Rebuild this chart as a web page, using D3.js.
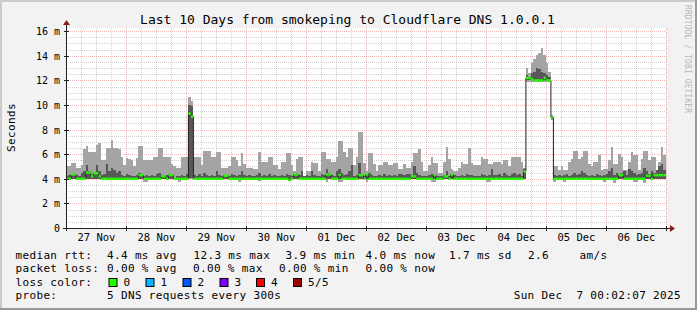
<!DOCTYPE html>
<html><head><meta charset="utf-8">
<script src="https://cdn.jsdelivr.net/npm/d3@7"></script>
<style>
html,body{margin:0;padding:0;background:#f2f2f2;}
svg{display:block;font-family:"DejaVu Sans Mono",monospace;}
</style>
</head><body>
<svg id="chart" width="697" height="310"></svg>
<script>
// ---------------- data ----------------
const title = "Last 10 Days from smokeping to Cloudflare DNS 1.0.0.1";
const yTickValues = [0, 2, 4, 6, 8, 10, 12, 14, 16];
const startTime = Date.UTC(2025, 10, 27, 0, 2, 7);
const endTime = Date.UTC(2025, 11, 7, 0, 2, 7);
const firstBin = Date.UTC(2025, 10, 27, 0, 0, 0);
const binSeconds = 3600;

// slowest ping (ms) per hourly bin
const maxMs = [
5.0,5.0,5.3,5.3,4.85,4.9,5.1,6.4,6.65,6.2,
6.15,6.15,6.75,6.95,5.5,5.5,6.5,6.5,7.15,6.5,
6.5,6.4,5.75,5.1,5.7,5.6,5.5,5.0,5.7,6.65,
6.65,5.5,5.5,5.5,5.5,5.8,5.8,6.5,6.5,5.8,
5.8,5.8,5.2,5.0,4.9,4.9,5.8,5.8,5.8,10.65,
10.3,5.8,5.8,5.8,5.1,6.3,6.3,6.3,5.8,5.8,
6.2,6.2,4.9,4.9,4.9,5.0,5.8,5.8,5.5,5.0,
6.1,5.2,4.9,4.9,4.9,4.8,4.8,6.2,5.4,5.4,
5.4,5.8,5.8,5.1,5.1,4.8,5.4,5.4,6.1,6.1,
5.1,4.6,5.6,5.8,5.8,4.2,4.6,4.6,5.4,5.3,
5.3,4.6,6.2,6.2,5.6,5.6,5.4,5.4,5.8,7.1,
7.1,6.2,5.8,6.5,6.5,5.1,5.8,7.8,7.8,5.3,
4.6,6.1,6.1,5.2,4.6,5.1,5.1,5.4,5.4,5.1,
5.1,5.3,5.3,4.8,4.8,5.2,4.9,4.9,5.4,6.1,
6.1,6.4,5.4,4.6,4.6,5.1,5.8,5.3,5.3,4.5,
4.5,5.4,6.6,5.6,4.8,4.6,4.6,4.9,5.4,5.2,
5.2,6.5,5.3,5.1,5.1,5.1,5.8,5.6,5.6,5.2,
5.2,5.4,5.4,5.4,5.2,5.5,5.5,5.0,5.8,5.8,
5.8,5.8,5.4,4.9,13.0,12.6,13.4,13.7,14.1,14.2,
14.6,14.1,13.4,12.7,9.2,5.0,5.0,4.7,5.0,4.7,
4.7,5.4,5.6,6.3,6.3,5.6,5.8,6.3,6.3,5.2,
5.0,5.4,5.4,5.9,4.7,4.8,4.8,5.5,6.6,5.2,
5.2,6.0,5.8,4.7,4.7,5.4,6.2,5.9,5.9,4.7,
5.6,6.3,6.3,5.5,5.8,5.8,4.7,5.4,6.6,5.9
];
// 4th of 5 pings (ms)
const p4Ms = [
4.2,4.3,4.4,4.4,4.3,4.2,4.5,4.6,5.1,4.6,
4.3,4.5,5.1,4.6,4.3,4.4,5.2,4.6,4.9,4.7,
4.5,4.6,4.3,4.2,4.4,4.3,4.2,4.2,4.3,4.5,
4.3,4.2,4.3,4.2,4.3,4.2,4.4,4.5,4.3,4.2,
4.3,4.4,4.4,4.1,4.2,4.2,4.3,4.2,4.4,10.0,
9.9,4.3,4.2,4.4,4.2,4.5,4.3,4.2,4.3,4.2,
4.6,4.3,4.2,4.3,4.3,4.2,4.4,4.3,4.2,4.3,
4.6,4.3,4.2,4.3,4.2,4.2,4.3,4.5,4.2,4.3,
4.2,4.4,4.2,4.3,4.2,4.2,4.3,4.2,4.4,4.3,
4.2,4.4,4.5,4.3,4.6,4.2,4.3,4.2,4.6,4.3,
4.2,4.2,4.4,4.3,4.8,4.5,4.3,4.2,4.6,4.8,
4.5,4.3,4.4,4.6,5.1,4.2,4.3,5.3,4.4,4.2,
4.4,4.5,4.3,4.2,4.2,4.3,4.2,4.4,4.2,4.3,
4.2,4.3,4.2,4.4,4.4,4.3,4.4,4.4,4.2,5.0,
4.5,4.3,4.2,4.2,4.2,4.3,4.4,4.3,4.2,4.2,
4.2,4.3,4.6,4.2,4.4,4.3,4.2,4.2,4.3,4.2,
4.4,4.3,4.3,4.2,4.2,4.2,4.4,4.3,4.2,4.3,
4.8,4.3,4.3,4.4,4.2,4.5,4.3,4.2,4.4,4.5,
4.3,4.4,4.2,4.8,12.4,12.3,12.6,12.7,13.0,12.9,
12.7,12.6,12.4,12.3,9.1,4.3,4.2,4.3,4.2,4.3,
4.4,4.2,4.3,4.5,4.3,4.4,4.6,4.5,4.3,4.2,
4.3,4.2,4.4,4.3,4.2,4.3,4.4,4.6,4.9,4.3,
4.5,4.4,4.5,4.6,4.3,4.8,4.6,4.5,4.3,4.4,
4.5,4.9,4.6,4.4,4.6,4.5,4.7,5.0,5.2,4.7
];
// median rtt (ms)
const medianMs = [
4.0,4.0,4.35,4.35,4.0,4.0,4.0,4.0,4.5,4.5,
4.2,4.45,4.45,4.2,4.0,4.0,4.0,4.0,4.0,4.0,
4.0,4.0,4.0,4.0,4.0,4.0,4.0,4.0,4.0,4.3,
4.3,4.0,4.0,4.0,4.0,4.0,4.0,4.0,4.2,4.2,
4.0,4.3,4.3,4.0,4.0,4.0,4.0,4.0,4.0,9.3,
9.05,4.0,4.0,4.0,4.0,4.0,4.0,4.0,4.0,4.0,
4.0,4.0,4.0,4.25,4.25,4.0,4.0,4.0,4.0,4.0,
4.0,4.0,4.0,4.0,4.0,4.0,4.0,4.0,4.0,4.0,
4.0,4.0,4.0,4.0,4.0,4.0,4.0,4.0,4.0,3.9,
4.0,4.35,4.35,4.0,4.0,4.0,4.0,4.0,4.0,4.0,
4.0,4.0,4.0,4.0,4.35,4.35,4.0,4.0,4.0,4.3,
4.0,4.0,4.0,4.0,4.0,4.0,4.0,4.3,4.3,4.0,
4.35,4.0,4.0,4.0,4.0,4.0,4.0,4.0,4.0,4.0,
4.0,4.0,4.0,4.0,4.0,4.0,4.0,4.0,4.2,4.2,
4.0,4.0,4.0,4.0,4.0,4.0,4.0,4.3,4.0,4.0,
4.0,4.2,4.2,4.0,4.35,4.0,4.0,4.0,4.0,4.0,
4.0,4.0,4.0,4.0,4.0,4.0,4.0,4.0,4.0,4.0,
4.0,4.0,4.0,4.0,4.0,4.0,4.0,4.0,4.0,4.0,
4.0,4.0,4.0,4.6,12.2,12.2,12.1,12.0,12.0,12.0,
12.0,12.2,12.0,12.0,9.0,4.0,4.0,4.0,4.0,4.0,
4.0,4.0,4.0,4.0,4.0,4.0,4.0,4.0,4.0,4.0,
4.0,4.0,4.0,4.0,4.0,4.0,4.0,4.0,4.0,4.0,
4.0,4.3,4.3,4.0,4.0,4.0,4.0,4.0,4.0,4.0,
4.0,4.0,4.25,4.25,4.0,4.3,4.3,4.3,4.3,4.3
];
// 2nd of 5 pings (ms)
const p2Ms = [
4.0,4.0,4.0,4.0,4.0,4.0,4.0,4.0,4.0,4.0,
4.0,4.0,4.0,4.0,4.0,4.0,4.0,4.0,4.0,4.0,
4.0,4.0,4.0,4.0,4.0,4.0,4.0,4.0,4.0,4.0,
4.0,4.0,4.0,4.0,4.0,4.0,4.0,4.0,4.0,4.0,
4.0,4.0,4.0,4.0,4.0,4.0,4.0,4.0,4.0,4.1,
4.1,4.0,4.0,4.0,4.0,4.0,4.0,4.0,4.0,4.0,
4.0,4.0,4.0,4.0,4.0,4.0,4.0,4.0,4.0,4.0,
4.0,4.0,4.0,4.0,4.0,4.0,4.0,4.0,4.0,4.0,
4.0,4.0,4.0,4.0,4.0,4.0,4.0,4.0,4.0,3.9,
4.0,4.0,4.0,4.0,4.0,4.0,4.0,4.0,4.0,4.0,
4.0,4.0,4.0,4.0,4.0,4.0,4.0,4.0,4.0,4.0,
4.0,4.0,4.0,4.0,4.0,4.0,4.0,4.0,4.0,4.0,
4.0,4.0,4.0,4.0,4.0,4.0,4.0,4.0,4.0,4.0,
4.0,4.0,4.0,4.0,4.0,4.0,4.0,4.0,4.0,4.0,
4.0,4.0,4.0,4.0,4.0,4.0,4.0,4.0,4.0,4.0,
4.0,4.0,4.0,4.0,4.0,4.0,4.0,4.0,4.0,4.0,
4.0,4.0,4.0,4.0,4.0,4.0,4.0,4.0,4.0,4.0,
4.0,4.0,4.0,4.0,4.0,4.0,4.0,4.0,4.0,4.0,
4.0,4.0,4.0,4.0,12.0,12.0,12.0,12.0,12.0,12.0,
12.0,12.0,12.0,12.0,8.9,4.0,4.0,4.0,4.0,4.0,
4.0,4.0,4.0,4.0,4.0,4.0,4.0,4.0,4.0,4.0,
4.0,4.0,4.0,4.0,4.0,4.0,4.0,4.0,4.0,4.0,
4.0,4.0,4.0,4.0,4.0,4.0,4.0,4.0,4.0,4.0,
4.0,4.0,4.0,4.0,4.0,4.0,4.0,4.0,4.0,4.0
];
// fastest ping (ms)
const minMs = [
3.95,3.95,3.95,3.95,3.95,3.95,3.95,3.95,3.95,3.95,
3.95,3.95,3.95,3.95,3.95,3.95,3.95,3.95,3.95,3.95,
3.95,3.95,3.95,3.95,3.95,3.95,3.95,3.95,3.95,3.95,
3.95,3.7,3.7,3.95,3.95,3.95,3.95,3.95,3.95,3.95,
3.95,3.95,3.95,3.95,3.95,3.7,3.95,3.95,3.95,4.0,
4.0,3.95,3.95,3.95,3.95,3.95,3.95,3.95,3.95,3.95,
3.95,3.95,3.95,3.95,3.95,3.95,3.95,3.95,3.95,3.75,
3.95,3.95,3.95,3.95,3.95,3.95,3.95,3.8,3.95,3.95,
3.95,3.95,3.95,3.95,3.95,3.95,3.95,3.95,3.95,3.85,
3.95,3.95,3.95,3.95,3.95,3.95,3.95,3.95,3.95,3.95,
3.95,3.95,3.95,3.95,3.75,3.95,3.95,3.95,3.95,3.7,
3.7,3.95,3.95,3.95,3.95,3.95,3.95,3.95,3.95,3.95,
3.75,3.95,3.95,3.95,3.95,3.95,3.95,3.95,3.95,3.95,
3.95,3.95,3.95,3.95,3.95,3.95,3.95,3.95,3.95,3.95,
3.95,3.95,3.95,3.95,3.95,3.95,3.7,3.7,3.95,3.95,
3.95,3.95,3.95,3.95,3.95,3.95,3.95,3.95,3.95,3.95,
3.95,3.95,3.95,3.95,3.95,3.95,3.95,3.95,3.75,3.75,
3.95,3.95,3.95,3.95,3.95,3.95,3.95,3.95,3.95,3.95,
3.95,3.95,3.95,3.95,11.9,11.9,11.9,11.9,11.9,11.9,
11.9,11.9,11.9,11.9,8.8,3.75,3.95,3.95,3.95,3.7,
3.95,3.95,3.95,3.95,3.95,3.95,3.95,3.95,3.95,3.95,
3.95,3.95,3.95,3.95,3.95,3.75,3.95,3.95,3.95,3.65,
3.95,3.95,3.95,3.95,3.95,3.95,3.95,3.75,3.75,3.95,
3.95,3.65,3.95,3.95,3.95,3.95,3.95,3.95,3.95,3.95
];

const statsRows = [
  ["median rtt:", [[107,"4.4 ms avg"],[193.5,"12.3 ms max"],[285.5,"3.9 ms min"],[365.5,"4.0 ms now"],[449,"1.7 ms sd"],[528,"2.6"],[579.5,"am/s"]]],
  ["packet loss:", [[107,"0.00 % avg"],[193,"0.00 % max"],[279,"0.00 % min"],[365.5,"0.00 % now"]]],
];
const lossLabels = ["0", "1", "2", "3", "4", "5/5"];
const lossColors = ["#26ff00", "#00b8ff", "#0059ff", "#7e00ff", "#ff0000", "#a00000"];
const probeText = "5 DNS requests every 300s";
const dateText = "Sun Dec  7 00:02:07 2025";

// ---------------- drawing ----------------
const svg = d3.select("#chart");
const W = 697, H = 310;
const L = 66, R = 666, T = 28, B = 228;

const x = d3.scaleUtc().domain([new Date(startTime), new Date(endTime)]).range([L, R]);
const y = d3.scaleLinear().domain([0, 16.26]).range([B, T]);

svg.append("rect").attr("width", W).attr("height", H).attr("fill", "#f2f2f2");
// frame shading
svg.append("rect").attr("x",0).attr("y",0).attr("width",W).attr("height",2).attr("fill","#cbcbcb");
svg.append("rect").attr("x",0).attr("y",0).attr("width",2).attr("height",H).attr("fill","#cbcbcb");
svg.append("rect").attr("x",0).attr("y",H-2).attr("width",W).attr("height",2).attr("fill","#999999");
svg.append("rect").attr("x",W-2).attr("y",0).attr("width",2).attr("height",H).attr("fill","#999999");

// canvas
svg.append("rect").attr("x", L).attr("y", T).attr("width", R - L).attr("height", B - T).attr("fill", "#ffffff");

const defs = svg.append("defs");
defs.append("clipPath").attr("id","plotclip").append("rect")
  .attr("x", L).attr("y", T).attr("width", R - L).attr("height", B - T);

// grid (under the data)
const grid = svg.append("g");
const majorDays = d3.utcDay.range(new Date(startTime), new Date(endTime + 1));
const minorHours = d3.utcHour.every(6).range(new Date(startTime), new Date(endTime))
  .filter(d => d.getUTCHours() !== 0);
const minorColor = "rgba(143,143,143,0.4)", majorColor = "rgba(222,80,80,0.42)";
grid.selectAll("line.vmin").data(minorHours).join("line")
  .attr("x1", d => Math.round(x(d)) + 0.5).attr("x2", d => Math.round(x(d)) + 0.5)
  .attr("y1", T).attr("y2", B)
  .attr("stroke", minorColor).attr("stroke-dasharray", "1,1");
grid.selectAll("line.vmaj").data(majorDays).join("line")
  .attr("x1", d => Math.round(x(d)) + 0.5).attr("x2", d => Math.round(x(d)) + 0.5)
  .attr("y1", T).attr("y2", B)
  .attr("stroke", majorColor).attr("stroke-dasharray", "1,1");
const hMinor = d3.range(0.5, 16.26, 0.5).filter(v => v % 2 !== 0);
grid.selectAll("line.hmin").data(hMinor).join("line")
  .attr("x1", L).attr("x2", R)
  .attr("y1", d => Math.round(y(d)) + 0.5).attr("y2", d => Math.round(y(d)) + 0.5)
  .attr("stroke", minorColor).attr("stroke-dasharray", "1,1");
grid.selectAll("line.hmaj").data(yTickValues.filter(v => v > 0)).join("line")
  .attr("x1", L).attr("x2", R)
  .attr("y1", d => Math.round(y(d)) + 0.5).attr("y2", d => Math.round(y(d)) + 0.5)
  .attr("stroke", majorColor).attr("stroke-dasharray", "1,1");

const bins = maxMs.map((v, i) => ({
  t0: new Date(firstBin + i * binSeconds * 1000),
  t1: new Date(firstBin + (i + 1) * binSeconds * 1000),
  min: minMs[i], p2: p2Ms[i], med: medianMs[i], p4: p4Ms[i], max: v
}));

const plot = svg.append("g").attr("clip-path", "url(#plotclip)");

// smoke: outer pair (min..max)
plot.append("g").selectAll("rect").data(bins).join("rect")
  .attr("x", d => x(d.t0)).attr("width", d => x(d.t1) - x(d.t0))
  .attr("y", d => y(d.max)).attr("height", d => y(d.min) - y(d.max))
  .attr("fill", "#a4a4a4").attr("shape-rendering","crispEdges");
// smoke: inner pair (p2..p4)
plot.append("g").selectAll("rect").data(bins).join("rect")
  .attr("x", d => x(d.t0)).attr("width", d => x(d.t1) - x(d.t0))
  .attr("y", d => y(d.p4)).attr("height", d => y(d.p2) - y(d.p4))
  .attr("fill", "#585858").attr("shape-rendering","crispEdges");

// median black step line
const medLine = d3.line().x(d => x(d.t)).y(d => y(d.v)).curve(d3.curveStepAfter);
const medPts = bins.map(d => ({t: d.t0, v: d.med}));
medPts.push({t: bins[bins.length - 1].t1, v: bins[bins.length - 1].med});
plot.append("path").attr("d", medLine(medPts)).attr("fill", "none")
  .attr("stroke", "#202020").attr("stroke-width", 1);

// loss-coloured median band
plot.append("g").selectAll("rect").data(bins).join("rect")
  .attr("x", d => x(d.t0)).attr("width", d => x(d.t1) - x(d.t0))
  .attr("y", d => y(d.med) - 1.2).attr("height", 2.4)
  .attr("fill", lossColors[0]);

// axes lines
svg.append("line").attr("x1", L - 3).attr("x2", 670).attr("y1", B + 0.5).attr("y2", B + 0.5)
  .attr("stroke", "#202020");
svg.append("line").attr("x1", L + 0.5).attr("x2", L + 0.5).attr("y1", B + 3).attr("y2", 25)
  .attr("stroke", "#202020");
svg.append("path").attr("d", `M670,${B - 3}L675,${B + 0.5}L670,${B + 4}Z`).attr("fill", "#8b1a1a");
svg.append("path").attr("d", `M${L - 3},25L${L + 0.5},20L${L + 4},25Z`).attr("fill", "#8b1a1a");

// ticks on axes
svg.append("g").selectAll("line").data(yTickValues).join("line")
  .attr("x1", L - 2).attr("x2", L + 3)
  .attr("y1", d => Math.round(y(d)) + 0.5).attr("y2", d => Math.round(y(d)) + 0.5)
  .attr("stroke", "#202020");
svg.append("g").selectAll("line").data(majorDays).join("line")
  .attr("x1", d => Math.round(x(d)) + 0.5).attr("x2", d => Math.round(x(d)) + 0.5)
  .attr("y1", B - 2).attr("y2", B + 3)
  .attr("stroke", "#202020");

// Y axis labels
const yAxis = d3.axisLeft(y).tickValues(yTickValues).tickSize(0).tickPadding(0)
  .tickFormat(d => d === 0 ? "0" : d + " m");
const yg = svg.append("g").attr("transform", `translate(${L - 6},0)`).call(yAxis);
yg.select(".domain").remove();
yg.selectAll("text").attr("font-family", "DejaVu Sans Mono").attr("font-size", "10px")
  .attr("fill", "#000").attr("dy", "0.35em");

// X axis labels centred on noon
const noons = d3.utcDay.range(new Date(firstBin), new Date(endTime - 86400000 + 1))
  .map(d => d3.utcHour.offset(d, 12));
const xAxis = d3.axisBottom(x).tickValues(noons).tickSize(0).tickPadding(0)
  .tickFormat(d3.utcFormat("%d %b"));
const xg = svg.append("g").attr("transform", `translate(0,${B})`).call(xAxis);
xg.select(".domain").remove();
xg.selectAll("text").attr("font-family", "DejaVu Sans Mono").attr("font-size", "10.5px")
  .attr("fill", "#000").attr("dy", null).attr("y", 13);

// title
svg.append("text").attr("x", 347.5).attr("y", 24).attr("text-anchor", "middle")
  .attr("font-size", "13px").attr("fill", "#000").text(title);

// y label
svg.append("text").attr("transform", "translate(15,127.5) rotate(-90)")
  .attr("text-anchor", "middle").attr("font-size", "11px").attr("letter-spacing", "0.35px")
  .attr("fill", "#000").text("Seconds");

// watermark
svg.append("text").attr("transform", "translate(685,5) rotate(90)")
  .attr("font-size", "8px").attr("letter-spacing", "0.1px").attr("fill", "#b8b8b8")
  .text("RRDTOOL / TOBI OETIKER");

// legend
const leg = svg.append("g").attr("font-size", "11px").attr("letter-spacing", "0.35px").attr("fill", "#000");
const rowY = [258.5, 272, 285.7, 299.3];
statsRows.forEach((row, r) => {
  leg.append("text").attr("x", 15.5).attr("y", rowY[r]).text(row[0]);
  row[1].forEach(([px, s]) => leg.append("text").attr("x", px).attr("y", rowY[r]).text(s));
});
leg.append("text").attr("x", 15.5).attr("y", rowY[2]).text("loss color:");
const boxX = [108.5, 145.5, 182.5, 219.5, 256, 293];
lossLabels.forEach((lab, i) => {
  leg.append("rect").attr("x", boxX[i] + 0.5).attr("y", 278.5).attr("width", 8).attr("height", 8)
    .attr("fill", lossColors[i]).attr("stroke", "#000").attr("stroke-width", 1);
  leg.append("text").attr("x", boxX[i] + 15).attr("y", rowY[2]).text(lab);
});
leg.append("text").attr("x", 15.5).attr("y", rowY[3]).text("probe:");
leg.append("text").attr("x", 107).attr("y", rowY[3]).text(probeText);
leg.append("text").attr("x", 681).attr("y", rowY[3]).attr("text-anchor", "end")
  .attr("xml:space", "preserve").style("white-space", "pre").text(dateText);
</script>
</body></html>
